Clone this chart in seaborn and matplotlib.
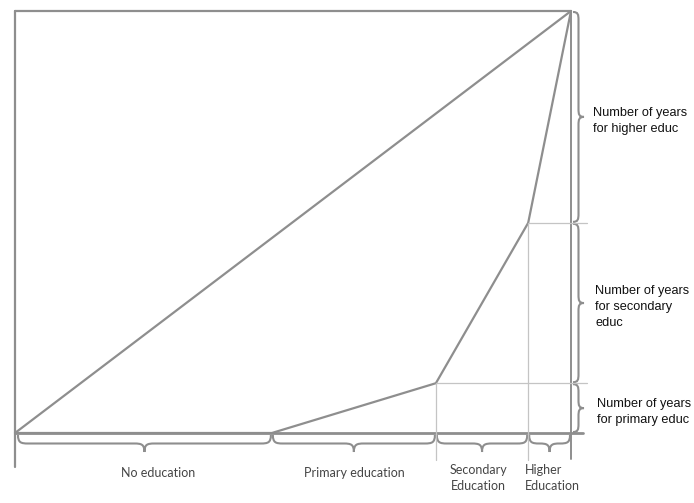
"""
Education Lorenz curve sketch: cumulative years of schooling vs population
grouped by highest level reached.
"""
import numpy as np
import pandas as pd
import matplotlib
matplotlib.use('Agg')
import matplotlib.pyplot as plt
from matplotlib.path import Path
from matplotlib.patches import PathPatch
import seaborn as sns

# cumulative population share at the end of each group
pop_share   = [0.0, 0.462, 0.757, 0.923, 1.0]
# cumulative share of years of schooling at the same points
years_share = [0.0, 0.0, 0.118, 0.498, 1.0]

levels      = ["No education", "Primary education",
               "Secondary\nEducation", "Higher\nEducation"]
year_labels = ["Number of years\nfor primary educ",
               "Number of years\nfor secondary\neduc",
               "Number of years\nfor higher educ"]

LINE  = "#8e8e8e"
GUIDE = "#c4c4c4"
TEXT_GREY = "#454545"

sns.set_style("white")

fig = plt.figure(figsize=(6.94, 5.03), dpi=100)
ax = fig.add_axes([15 / 694, 70 / 503, 556 / 694, 422 / 503])
ax.set_xlim(0, 1)
ax.set_ylim(0, 1)
ax.axis("off")

PX = 1 / 556   # one pixel in x data units
PY = 1 / 422   # one pixel in y data units

df_curve = pd.DataFrame({"pop": pop_share, "years": years_share})
df_equal = pd.DataFrame({"pop": [pop_share[0], pop_share[-1]],
                         "years": [years_share[0], years_share[-1]]})

sns.lineplot(data=df_equal, x="pop", y="years", ax=ax, color=LINE,
             lw=1.6, estimator=None, sort=False, clip_on=False)
sns.lineplot(data=df_curve, x="pop", y="years", ax=ax, color=LINE,
             lw=1.6, estimator=None, sort=False, clip_on=False)

# frame
ax.plot([0, 1], [1, 1], color=LINE, lw=1.6, clip_on=False)
ax.plot([0, 1 + 12 * PX], [0, 0], color=LINE, lw=2.0, clip_on=False)
ax.plot([0, 0], [1, -34 * PY], color=LINE, lw=1.6, clip_on=False)
ax.plot([1, 1], [1, -26 * PY], color=LINE, lw=1.4, clip_on=False)

# guide lines from the kinks
for x, y in zip(pop_share[2:4], years_share[2:4]):
    ax.plot([x, x], [y, -27 * PY], color=GUIDE, lw=0.9, clip_on=False)
    ax.plot([x, 1 + 16 * PX], [y, y], color=GUIDE, lw=0.9, clip_on=False)


def brace(ax, a, b, at, depth, horizontal=True, r=8):
    """curly brace from a to b (data units) at position `at`, depth in px"""
    if horizontal:
        a, b = a / PX, b / PX
        at = at / PY
    else:
        a, b = a / PY, b / PY
        at = at / PX
    m = (a + b) / 2
    h = depth / 2
    r = min(r, (b - a) / 4)
    pts = [(a, at),
           (a, at + h * 0.9), (a + r * 0.3, at + h), (a + r, at + h),
           (m - r, at + h),
           (m - r * 0.3, at + h), (m, at + h * 1.1), (m, at + depth),
           (m, at + h * 1.1), (m + r * 0.3, at + h), (m + r, at + h),
           (b - r, at + h),
           (b - r * 0.3, at + h), (b, at + h * 0.9), (b, at)]
    codes = ([Path.MOVETO] + [Path.CURVE4] * 3 + [Path.LINETO]
             + [Path.CURVE4] * 6 + [Path.LINETO] + [Path.CURVE4] * 3)
    if horizontal:
        verts = [(u * PX, v * PY) for u, v in pts]
    else:
        verts = [(v * PX, u * PY) for u, v in pts]
    ax.add_patch(PathPatch(Path(verts, codes), fc="none", ec=LINE,
                           lw=1.5, clip_on=False))


# braces under the x axis
for i, lab in enumerate(levels):
    x0 = pop_share[i] + (3 * PX if i == 0 else PX)
    x1 = pop_share[i + 1] - PX
    brace(ax, x0, x1, -2 * PY, -17, horizontal=True, r=10)

ax.text((pop_share[0] + pop_share[1]) / 2 + 15 * PX, -40 * PY, levels[0],
        ha="center", va="center", fontsize=9, color=TEXT_GREY, family="Lato")
ax.text((pop_share[1] + pop_share[2]) / 2 + 0 * PX, -40 * PY, levels[1],
        ha="center", va="center", fontsize=9, color=TEXT_GREY, family="Lato")
ax.text((pop_share[2] + pop_share[3]) / 2 - 4 * PX, -45 * PY, levels[2],
        ha="center", va="center", fontsize=9, color=TEXT_GREY, family="Lato",
        linespacing=1.5)
ax.text(pop_share[3] - 3 * PX, -45 * PY, levels[3],
        ha="left", va="center", fontsize=9, color=TEXT_GREY, family="Lato",
        linespacing=1.5)

# braces on the right side
for i, lab in enumerate(year_labels):
    y0 = years_share[i + 1] + PY
    y1 = years_share[i + 2] - PY
    brace(ax, y0, y1, 1 + 2 * PX, 11, horizontal=False, r=8)
    ax.text(1 + (22 + 2 * (2 - i)) * PX, (y0 + y1) / 2 - 4 * PY, lab,
            ha="left", va="center", fontsize=9.2, color="#111111",
            family="Liberation Sans", linespacing=1.4)

fig.savefig("out.png", dpi=100, facecolor="white")
